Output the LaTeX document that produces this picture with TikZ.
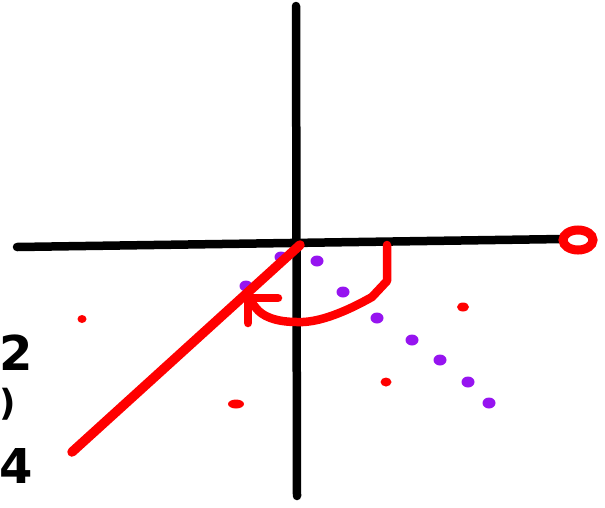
\documentclass[tikz,border=0pt]{standalone}
\usepackage{fontspec}
\usetikzlibrary{shapes.geometric}
\newfontfamily\handfont{DejaVu Sans}
\begin{document}
\begin{tikzpicture}[x=1pt,y=-1pt,
  axis/.style={line width=8.5pt,black,line cap=round},
  redstroke/.style={line width=8.5pt,red,line cap=round,line join=round},
  hand/.style={font=\handfont\bfseries\fontsize{48}{48}\selectfont,inner sep=0pt}]
\definecolor{purp}{RGB}{150,20,240}
\useasboundingbox (0,0) rectangle (605,507);
% axes
\coordinate (vt) at (296,6);
\coordinate (vb) at (297,496);
\coordinate (hl) at (17,247);
\coordinate (hr) at (563,239);
\draw[axis] (vt) -- (vb);
\draw[axis] (hl) -- (hr);
% red circle at end of x-axis
\node[draw=red,line width=9pt,ellipse,minimum width=30pt,minimum height=20pt,inner sep=0pt] (circ) at (578,240) {};
% purple dots
\foreach \n/\x/\y in {p1/281/257,p2/317/261,p3/343/292,p4/377/318,p5/412/340,p6/440/360,p7/468/382,p8/489/403,p9/246/286}
  \fill[purp] (\x,\y) ellipse (6.5pt and 5.5pt) coordinate (\n);
% red dots
\fill[red] (82,319) ellipse (4.5pt and 4pt) coordinate (r1);
\fill[red] (463,307) ellipse (6pt and 4.5pt) coordinate (r2);
\fill[red] (386,382) ellipse (5.5pt and 4.5pt) coordinate (r3);
\fill[red] (236,404) ellipse (8pt and 4.5pt) coordinate (r4);
% red long line
\coordinate (o) at (300,245);
\coordinate (e) at (72,452);
\draw[redstroke,line width=9.5pt] (o) -- (e);
% arc arrow
\coordinate (a0) at (387,245);
\coordinate (a1) at (387,281);
\coordinate (a2) at (372,297);
\coordinate (a3) at (297,322);
\coordinate (a4) at (256,308);
\coordinate (tip) at (248,298);
\coordinate (hA) at (278,298);
\coordinate (hB) at (248,323);
\draw[redstroke] (a0) -- (a1) -- (a2) .. controls (340,315) and (315,323) .. (a3) .. controls (275,322) and (262,316) .. (a4) -- (tip);
\draw[redstroke] (hA) -- (tip) -- (hB);
% handwritten left text
\node[hand] (t2) at (16,353) {2};
\node[hand,font=\handfont\bfseries\fontsize{36}{36}\selectfont] (t3) at (8,404) {)};
\node[hand] (t4) at (16,466) {4};
\end{tikzpicture}
\end{document}
